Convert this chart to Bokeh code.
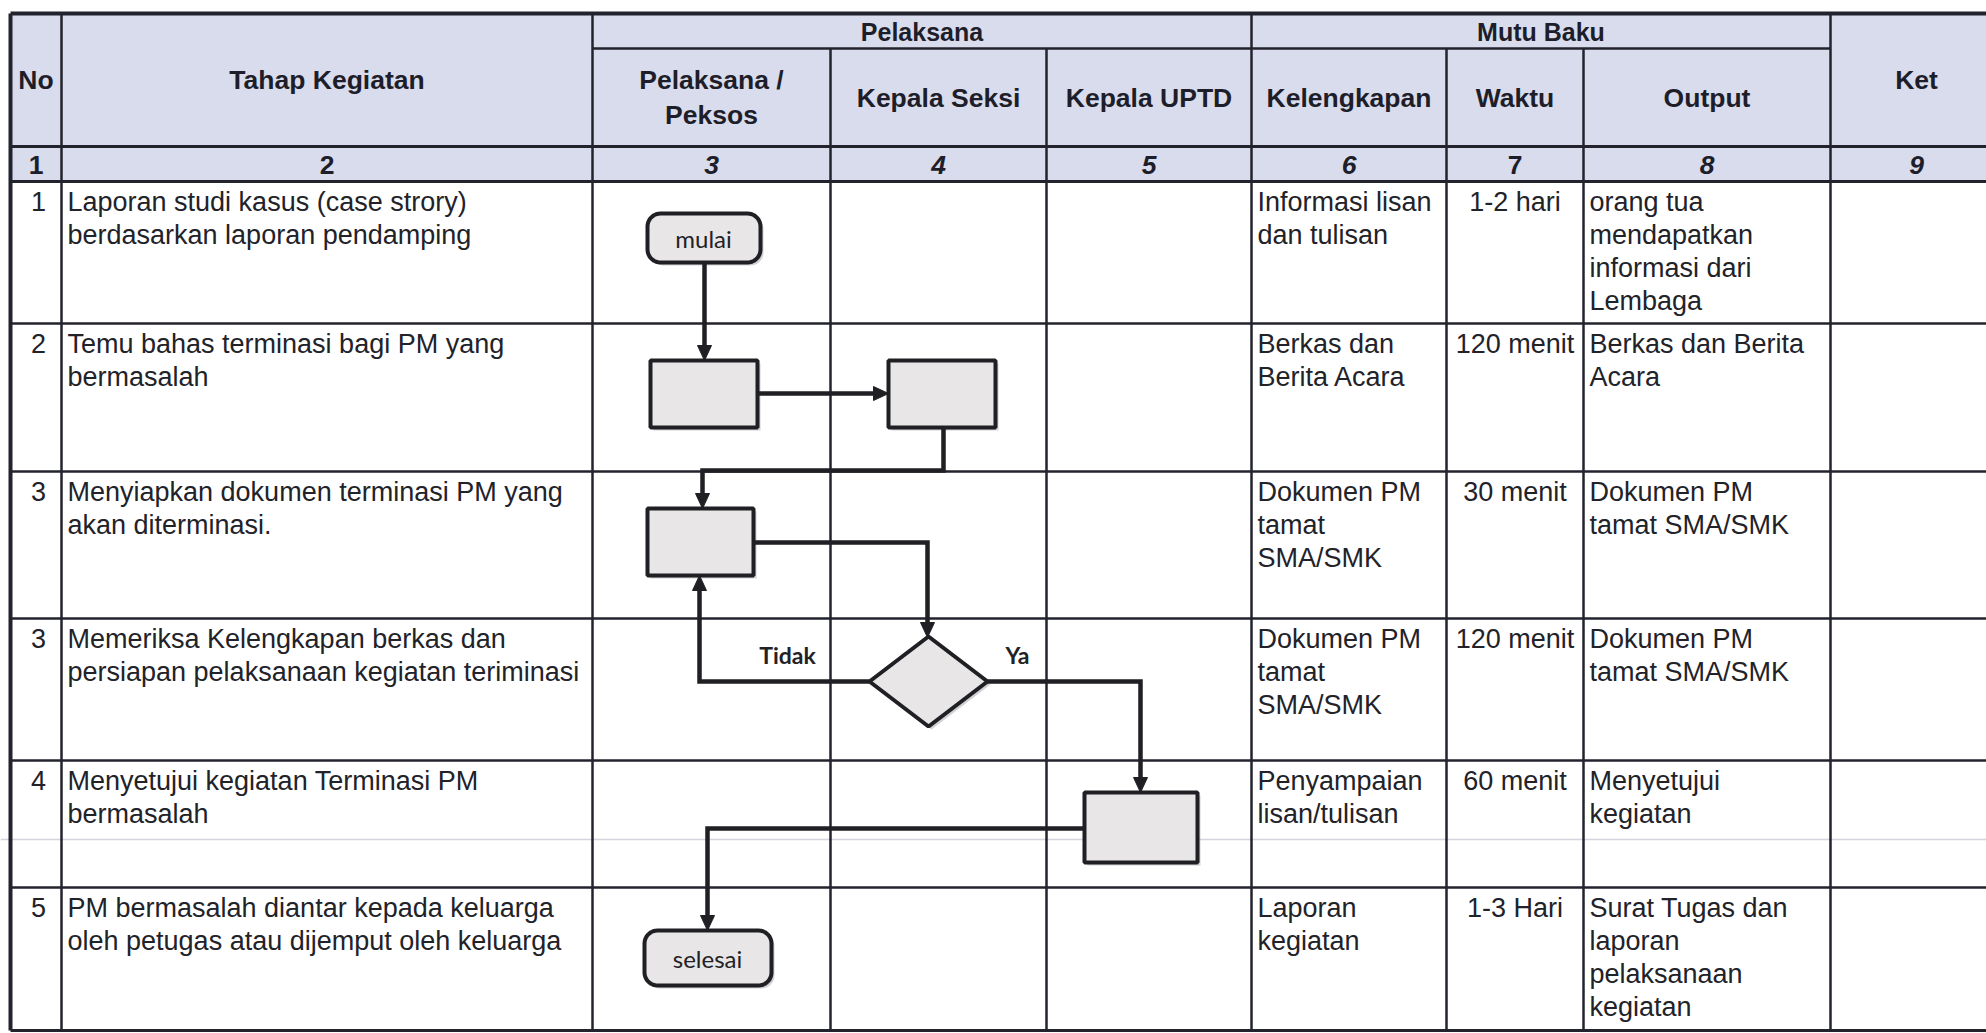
import numpy as np
from bokeh.plotting import figure
from bokeh.models import Range1d
from bokeh.core.properties import value
from bokeh.embed import file_html
from bokeh.resources import INLINE

# ---------------- data (texts of the table) ----------------
group_headers = ["Pelaksana", "Mutu Baku"]
col_headers = ["No", "Tahap Kegiatan", "Pelaksana /\nPeksos", "Kepala Seksi",
               "Kepala UPTD", "Kelengkapan", "Waktu", "Output", "Ket"]
col_numbers = ["1", "2", "3", "4", "5", "6", "7", "8", "9"]
row_no = ["1", "2", "3", "3", "4", "5"]
tahap = [
    "Laporan studi kasus (case strory)\nberdasarkan laporan pendamping",
    "Temu bahas terminasi bagi PM yang\nbermasalah",
    "Menyiapkan dokumen terminasi PM yang\nakan diterminasi.",
    "Memeriksa Kelengkapan berkas dan\npersiapan pelaksanaan kegiatan teriminasi",
    "Menyetujui kegiatan Terminasi PM\nbermasalah",
    "PM bermasalah diantar kepada keluarga\noleh petugas atau dijemput oleh keluarga",
]
kelengkapan = [
    "Informasi lisan\ndan tulisan",
    "Berkas dan\nBerita Acara",
    "Dokumen PM\ntamat\nSMA/SMK",
    "Dokumen PM\ntamat\nSMA/SMK",
    "Penyampaian\nlisan/tulisan",
    "Laporan\nkegiatan",
]
waktu = ["1-2 hari", "120 menit", "30 menit", "120 menit", "60 menit", "1-3 Hari"]
output = [
    "orang tua\nmendapatkan\ninformasi dari\nLembaga",
    "Berkas dan Berita\nAcara",
    "Dokumen PM\ntamat SMA/SMK",
    "Dokumen PM\ntamat SMA/SMK",
    "Menyetujui\nkegiatan",
    "Surat Tugas dan\nlaporan\npelaksanaan\nkegiatan",
]
flow_labels = ["mulai", "selesai"]
branch_labels = ["Tidak", "Ya"]

# ---------------- layout (pixel geometry) ----------------
W, H = 1986, 1033
X = [10, 61, 592, 830, 1046, 1251, 1446, 1583, 1830, 2002]
Y_TOP, Y_GRP, Y_HDR, Y_NUM = 13, 48, 146, 181
ROWS = [181, 323, 471, 618, 760, 887, 1030]
LINE = "#23232e"
HDR_FILL = "#d9dcec"
SHAPE_FILL = "#e8e6e6"
FONT = value("Liberation Sans")
FLOWFONT = value("Lato")

p = figure(width=W, height=H, x_range=Range1d(0, W), y_range=Range1d(H, 0),
           output_backend="svg", toolbar_location=None, min_border=0)
p.axis.visible = False
p.grid.visible = False
p.outline_line_color = None
p.background_fill_color = "white"
p.border_fill_color = "white"

# header background
p.quad(left=X[0], right=2000, top=Y_TOP, bottom=Y_NUM, fill_color=HDR_FILL, line_color=None)

# faint scan line
p.segment(x0=[0], y0=[839], x1=[2000], y1=[839], line_color="#d4d4dc", line_width=1.5)

# ---------------- grid lines ----------------
vx, vy0, vy1, vw = [], [], [], []
for i, x in enumerate(X[:-1]):
    top = Y_GRP if i in (3, 4, 6, 7) else Y_TOP
    vx.append(x); vy0.append(top); vy1.append(ROWS[-1]); vw.append(4 if i == 0 else 2.5)
p.segment(x0=vx, y0=vy0, x1=vx, y1=vy1, line_color=LINE, line_width=vw)

hx0, hx1, hy, hw = [], [], [], []
hx0.append(X[0]); hx1.append(2000); hy.append(Y_TOP); hw.append(4)
hx0.append(X[2]); hx1.append(X[8]); hy.append(Y_GRP); hw.append(2.5)
hx0.append(X[0]); hx1.append(2000); hy.append(Y_HDR); hw.append(3)
for r in ROWS:
    hx0.append(X[0]); hx1.append(2000); hy.append(r); hw.append(3 if r in (181, 1030) else 2.5)
p.segment(x0=hx0, y0=hy, x1=hx1, y1=hy, line_color=LINE, line_width=hw)

# ---------------- header texts ----------------
FS = "27px"
p.text(x=[(X[2] + X[5]) / 2, (X[5] + X[8]) / 2], y=[(Y_TOP + Y_GRP) / 2 + 1] * 2,
       text=group_headers, text_font=FONT, text_font_style="bold", text_font_size="25px",
       text_align="center", text_baseline="middle", text_color="#1e1e2a")

hdr_x, hdr_y, hdr_t = [], [], []
for i, t in enumerate(col_headers):
    cx = (X[i] + X[i + 1]) / 2
    if i in (0, 1, 8):
        cy = (Y_TOP + Y_HDR) / 2
    else:
        cy = (Y_GRP + Y_HDR) / 2
    lines = t.split("\n")
    n = len(lines)
    for k, ln in enumerate(lines):
        hdr_x.append(cx)
        hdr_y.append(cy + (k - (n - 1) / 2) * 35)
        hdr_t.append(ln)
p.text(x=hdr_x, y=hdr_y, text=hdr_t, text_font=FONT, text_font_style="bold",
       text_font_size="26.5px", text_align="center", text_baseline="middle", text_color="#1e1e2a")

num_x = [(X[i] + X[i + 1]) / 2 for i in range(9)]
upright = [0, 1, 6]
p.text(x=[num_x[i] for i in upright], y=[(Y_HDR + Y_NUM) / 2 + 1] * len(upright),
       text=[col_numbers[i] for i in upright], text_font=FONT, text_font_style="bold",
       text_font_size="26.5px", text_align="center", text_baseline="middle", text_color="#1e1e2a")
ital = [i for i in range(9) if i not in upright]
p.text(x=[num_x[i] for i in ital], y=[(Y_HDR + Y_NUM) / 2 + 1] * len(ital),
       text=[col_numbers[i] for i in ital], text_font=FONT, text_font_style="bold italic",
       text_font_size="26.5px", text_align="center", text_baseline="middle", text_color="#1e1e2a")

# ---------------- body texts ----------------
LH = 33.3
def cell_lines(values, x, align):
    xs, ys, ts = [], [], []
    for r, v in enumerate(values):
        for k, ln in enumerate(v.split("\n")):
            xs.append(x); ys.append(ROWS[r] + 20 + k * LH); ts.append(ln)
    p.text(x=xs, y=ys, text=ts, text_font=FONT, text_font_size=FS, text_align=align,
           text_baseline="middle", text_color="#222229")

cell_lines(row_no, 38, "center")
cell_lines(tahap, X[1] + 6, "left")
cell_lines(kelengkapan, X[5] + 6, "left")
cell_lines(waktu, (X[6] + X[7]) / 2, "center")
cell_lines(output, X[7] + 6, "left")

# ---------------- flowchart ----------------
def rrect(x0, y0, x1, y1, r):
    xs, ys = [], []
    for cx, cy, a0 in [(x1 - r, y0 + r, -90), (x1 - r, y1 - r, 0), (x0 + r, y1 - r, 90), (x0 + r, y0 + r, 180)]:
        for a in np.radians(np.linspace(a0, a0 + 90, 10)):
            xs.append(cx + r * np.cos(a)); ys.append(cy + r * np.sin(a))
    return xs, ys

def rect(x0, y0, x1, y1):
    return [x0, x1, x1, x0], [y0, y0, y1, y1]

def diamond(cx, cy, hw, hh):
    return [cx, cx + hw, cx, cx - hw], [cy - hh, cy, cy + hh, cy]

shapes = [
    rrect(647, 213, 760, 262, 13),   # mulai
    rect(650, 360, 757, 427),        # box 1
    rect(888, 360, 995, 427),        # box 2
    rect(647, 508, 753, 575),        # box 3
    diamond(928, 681, 59, 45),       # decision
    rect(1084, 792, 1197, 862),      # box 4
    rrect(644, 930, 771, 985, 13),   # selesai
]
sx = [s[0] for s in shapes]
sy = [s[1] for s in shapes]
# shadow
p.patches(xs=[[v + 3 for v in s] for s in sx], ys=[[v + 3 for v in s] for s in sy],
          fill_color="#9a9aa0", fill_alpha=0.45, line_color=None)
p.patches(xs=sx, ys=sy, fill_color=SHAPE_FILL, line_color="#1f1f24", line_width=4)

# connectors (polylines) ; last segment ends at arrow base
AL = 15
def head(tx, ty, d):
    w = 7
    if d == "down":
        return [tx - w, tx + w, tx], [ty - AL, ty - AL, ty]
    if d == "up":
        return [tx - w, tx + w, tx], [ty + AL, ty + AL, ty]
    if d == "right":
        return [tx - AL, tx - AL, tx], [ty - w, ty + w, ty]
    return [tx + AL, tx + AL, tx], [ty - w, ty + w, ty]

conns = [
    ([704, 704], [262, 360], "down"),
    ([757, 888], [393, 393], "right"),
    ([943, 943, 702, 702], [427, 470, 470, 508], "down"),
    ([753, 927, 927], [542, 542, 637], "down"),
    ([869, 699, 699], [681, 681, 575], "up"),
    ([987, 1140, 1140], [681, 681, 792], "down"),
    ([1084, 707, 707], [828, 828, 930], "down"),
]
lx, ly, ax, ay = [], [], [], []
for xs_, ys_, d in conns:
    xs_ = list(xs_); ys_ = list(ys_)
    tx, ty = xs_[-1], ys_[-1]
    if d == "down": ys_[-1] = ty - AL + 2
    elif d == "up": ys_[-1] = ty + AL - 2
    elif d == "right": xs_[-1] = tx - AL + 2
    else: xs_[-1] = tx + AL - 2
    lx.append(xs_); ly.append(ys_)
    hx, hy_ = head(tx, ty, d)
    ax.append(hx); ay.append(hy_)
p.multi_line(xs=lx, ys=ly, line_color="#1f1f24", line_width=4.5, line_join="miter")
p.patches(xs=ax, ys=ay, fill_color="#1f1f24", line_color="#1f1f24", line_width=1)

p.text(x=[703, 707], y=[238, 958], text=flow_labels, text_font=FLOWFONT, text_font_size="24px",
       text_align="center", text_baseline="middle", text_color="#222226")
p.text(x=[787, 1017], y=[654, 654], text=branch_labels, text_font=FLOWFONT, text_font_style="bold",
       text_font_size="23px", text_align="center", text_baseline="middle", text_color="#222226")

open("out.html", "w").write(file_html(p, INLINE))
